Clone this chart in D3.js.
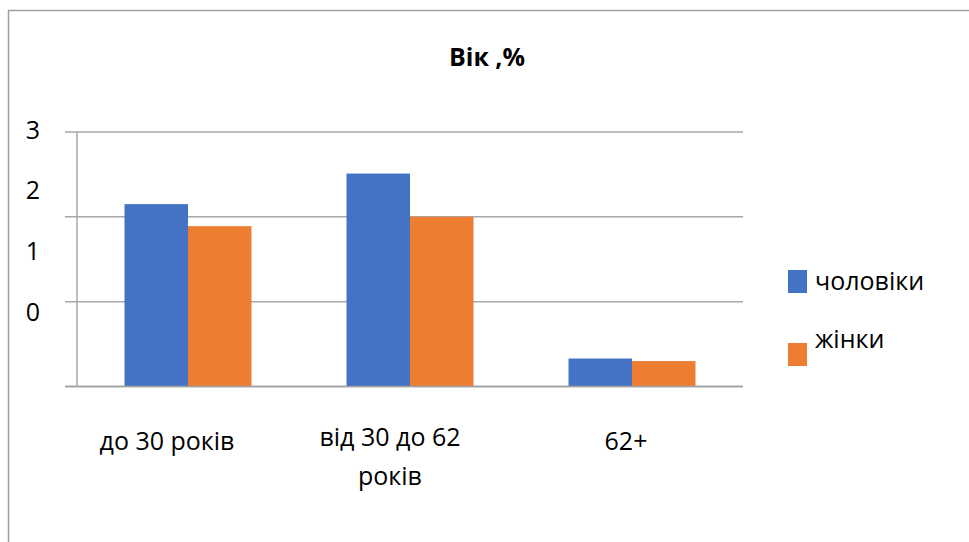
<!DOCTYPE html>
<html>
<head>
<meta charset="utf-8">
<script src="https://cdn.jsdelivr.net/npm/d3@7"></script>
<style>
  html, body { margin: 0; padding: 0; background: #fff; }
  svg { display: block; font-family: "Open Sans", Lato, sans-serif; }
</style>
</head>
<body>
<svg id="chart" width="969" height="542"></svg>
<script>
// Age groups and shares, %
const categories = ["до 30 років", "від 30 до 62 років", "62+"];
const seriesNames = ["чоловіки", "жінки"];
const men = [2.15, 2.51, 0.33];
const women = [1.89, 2.0, 0.30];
const yTickLabels = ["3", "2", "1", "0"];
const title = "Вік ,%";

const colors = ["#4472C4", "#ED7D31"];
const series = [men, women];
const fontSize = 25;

const svg = d3.select("#chart");

// outer frame
svg.append("rect")
  .attr("x", 8.5).attr("y", 10.5)
  .attr("width", 1000).attr("height", 600)
  .attr("fill", "none").attr("stroke", "#a0a0a0").attr("stroke-width", 1.5);

const plot = { left: 77, right: 743, top: 132, bottom: 386.5 };

const x = d3.scaleBand()
  .domain(categories)
  .range([plot.left, plot.right])
  .paddingInner(0.428).paddingOuter(0.214);

const xSub = d3.scaleBand()
  .domain(seriesNames)
  .range([0, x.bandwidth()]);

const y = d3.scaleLinear().domain([0, 3]).range([plot.bottom, plot.top]);

// gridlines
svg.append("g").selectAll("line")
  .data(y.ticks(3))
  .join("line")
  .attr("x1", plot.left - 12).attr("x2", plot.right)
  .attr("y1", d => y(d)).attr("y2", d => y(d))
  .attr("stroke", "#a8a8a8").attr("stroke-width", 1.5);

// vertical axis line
svg.append("line")
  .attr("x1", plot.left).attr("x2", plot.left)
  .attr("y1", plot.top).attr("y2", plot.bottom)
  .attr("stroke", "#a8a8a8").attr("stroke-width", 1.5);

// axis value labels sit on their own compressed column
const yLabel = d3.scaleLinear().domain([0, 3]).range([312, 130]);
svg.append("g").selectAll("text")
  .data(yTickLabels)
  .join("text")
  .attr("x", 33)
  .attr("y", d => yLabel(+d))
  .attr("dy", "0.35em")
  .attr("text-anchor", "middle")
  .attr("font-size", fontSize)
  .attr("fill", "#000")
  .text(d => d);

// bars
const groups = svg.append("g").selectAll("g")
  .data(categories)
  .join("g")
  .attr("transform", d => `translate(${x(d)},0)`);

groups.selectAll("rect")
  .data((d, i) => seriesNames.map((s, j) => ({ s, v: series[j][i], j })))
  .join("rect")
  .attr("x", d => xSub(d.s))
  .attr("width", xSub.bandwidth())
  .attr("y", d => y(d.v))
  .attr("height", d => y(0) - y(d.v))
  .attr("fill", d => colors[d.j]);

// baseline redrawn on top of bars
svg.append("line")
  .attr("x1", plot.left - 12).attr("x2", plot.right)
  .attr("y1", y(0)).attr("y2", y(0))
  .attr("stroke", "#a0a0a0").attr("stroke-width", 1.5);

// category labels
const labelShift = [-21, -20, -6];
const labelLines = [["до 30 років"], ["від 30 до 62", "років"], ["62+"]];
svg.append("g").selectAll("text")
  .data(categories)
  .join("text")
  .attr("x", (d, i) => x(d) + x.bandwidth() / 2 + labelShift[i])
  .attr("y", (d, i) => labelLines[i].length > 1 ? 446 : 450)
  .attr("text-anchor", "middle")
  .attr("font-size", fontSize)
  .attr("fill", "#000")
  .each(function (d, i) {
    d3.select(this).selectAll("tspan")
      .data(labelLines[i])
      .join("tspan")
      .attr("x", x(d) + x.bandwidth() / 2 + labelShift[i])
      .attr("dy", (t, k) => k === 0 ? 0 : 39)
      .text(t => t);
  });

// title
svg.append("text")
  .attr("x", 487).attr("y", 66)
  .attr("text-anchor", "middle")
  .attr("font-size", fontSize).attr("font-weight", "bold")
  .text(title);

// legend
const legend = svg.append("g").selectAll("g")
  .data(seriesNames)
  .join("g");
legend.append("rect")
  .attr("x", 788).attr("y", (d, i) => 270 + i * 73)
  .attr("width", 19).attr("height", 23)
  .attr("fill", (d, i) => colors[i]);
legend.append("text")
  .attr("x", 815).attr("y", (d, i) => 290 + i * 58)
  .attr("font-size", fontSize)
  .text(d => d);
</script>
</body>
</html>
